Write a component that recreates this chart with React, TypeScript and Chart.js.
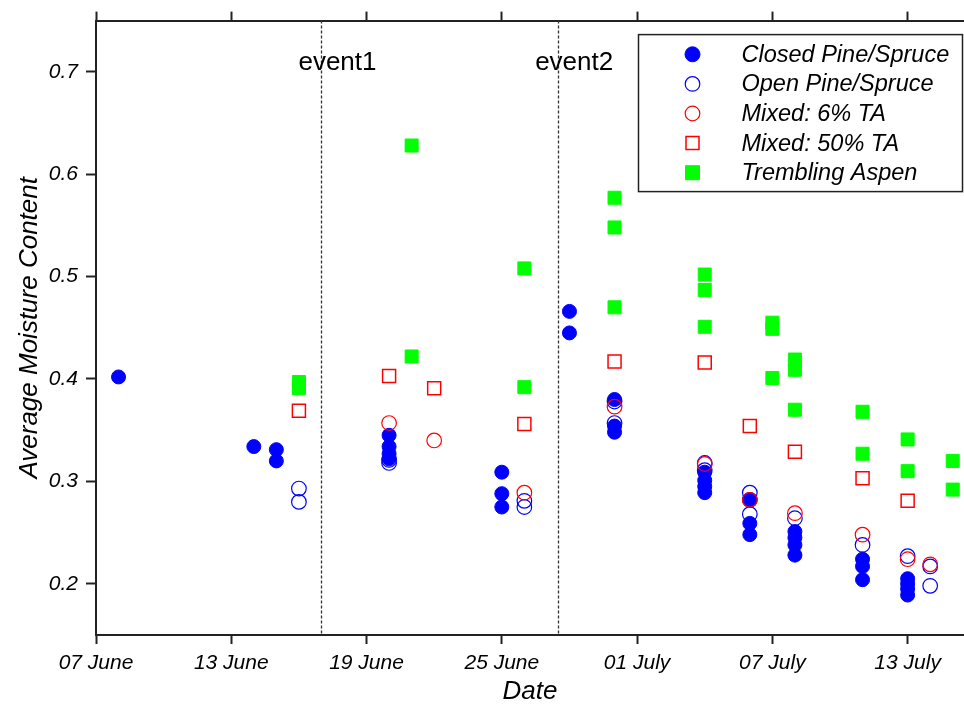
import React, { useEffect, useRef } from 'react';
import { Chart, registerables } from 'chart.js';

Chart.register(...registerables);

// x values are "day of June" (01 July = 31)
const xTickDays = [7, 13, 19, 25, 31, 37, 43];
const xTickLabels = ['07 June', '13 June', '19 June', '25 June', '01 July', '07 July', '13 July'];
const yTickValues = [0.2, 0.3, 0.4, 0.5, 0.6, 0.7];
const xMin = 7;
const xMax = 45.5;
const yMin = 0.15;
const yMax = 0.75;

const eventDays = [17, 27.5];
const eventLabels = ['event1', 'event2'];

const seriesNames = [
  'Closed Pine/Spruce',
  'Open Pine/Spruce',
  'Mixed: 6% TA',
  'Mixed: 50% TA',
  'Trembling Aspen',
];

const closedDays = [8, 14, 15, 15, 20, 20, 20, 20, 25, 25, 25, 28, 28, 30, 30, 30, 34, 34, 34, 34, 36, 36, 36, 38, 38, 38, 38, 41, 41, 41, 43, 43, 43, 43];
const closedValues = [0.402, 0.334, 0.331, 0.320, 0.345, 0.334, 0.327, 0.322, 0.309, 0.288, 0.275, 0.466, 0.445, 0.380, 0.354, 0.348, 0.309, 0.301, 0.295, 0.289, 0.282, 0.259, 0.248, 0.251, 0.245, 0.238, 0.228, 0.224, 0.217, 0.204, 0.205, 0.200, 0.195, 0.189];

const openDays = [16, 16, 20, 20, 26, 26, 30, 30, 34, 34, 36, 36, 36, 38, 41, 43, 44, 44];
const openValues = [0.293, 0.280, 0.321, 0.318, 0.281, 0.275, 0.378, 0.357, 0.318, 0.311, 0.289, 0.282, 0.268, 0.264, 0.238, 0.227, 0.217, 0.198];

const mixed6Days = [20, 22, 26, 30, 34, 36, 38, 41, 43, 44];
const mixed6Values = [0.357, 0.340, 0.289, 0.373, 0.317, 0.282, 0.269, 0.248, 0.224, 0.219];

const mixed50Days = [16, 20, 22, 26, 30, 34, 36, 38, 41, 43];
const mixed50Values = [0.369, 0.403, 0.391, 0.356, 0.417, 0.416, 0.354, 0.329, 0.303, 0.281];

const aspenDays = [16, 16, 21, 21, 26, 26, 30, 30, 30, 34, 34, 34, 37, 37, 37, 38, 38, 38, 41, 41, 43, 43, 45, 45];
const aspenValues = [0.397, 0.391, 0.628, 0.422, 0.508, 0.392, 0.577, 0.548, 0.470, 0.502, 0.487, 0.451, 0.455, 0.449, 0.401, 0.419, 0.409, 0.370, 0.368, 0.327, 0.341, 0.310, 0.320, 0.292];

const FONT = '"Liberation Sans", Arial, Helvetica, sans-serif';
const BLUE = '#0000ff';
const RED = '#ff0000';
const GREEN = '#00ff00';
const AXIS = '#222222';

const toPoints = (days: number[], vals: number[]) => days.map((d, i) => ({ x: d, y: vals[i] }));

type MarkerSpec = { style: 'circle' | 'rect'; fill: string | null; stroke: string; lw: number; r: number };
const markerSpecs: MarkerSpec[] = [
  { style: 'circle', fill: BLUE, stroke: BLUE, lw: 1, r: 7.5 },
  { style: 'circle', fill: null, stroke: BLUE, lw: 1.2, r: 7.3 },
  { style: 'circle', fill: null, stroke: RED, lw: 1.2, r: 7.3 },
  { style: 'rect', fill: null, stroke: RED, lw: 1.5, r: 6.5 },
  { style: 'rect', fill: GREEN, stroke: GREEN, lw: 1, r: 7 },
];

function drawMarker(ctx: CanvasRenderingContext2D, m: MarkerSpec, x: number, y: number) {
  ctx.beginPath();
  if (m.style === 'circle') ctx.arc(x, y, m.r, 0, Math.PI * 2);
  else ctx.rect(x - m.r, y - m.r, 2 * m.r, 2 * m.r);
  if (m.fill) {
    ctx.fillStyle = m.fill;
    ctx.fill();
  }
  ctx.strokeStyle = m.stroke;
  ctx.lineWidth = m.lw;
  ctx.stroke();
}

const overlayPlugin = {
  id: 'overlay',
  beforeDatasetsDraw(chart: any) {
    const { ctx, chartArea, scales } = chart;
    ctx.save();
    ctx.strokeStyle = '#333';
    ctx.lineWidth = 1.3;
    ctx.setLineDash([3, 2]);
    eventDays.forEach((d) => {
      const px = Math.round(scales.x.getPixelForValue(d)) + 0.5;
      ctx.beginPath();
      ctx.moveTo(px, chartArea.top);
      ctx.lineTo(px, chartArea.bottom);
      ctx.stroke();
    });
    ctx.restore();
  },
  afterDraw(chart: any) {
    const { ctx, chartArea, scales } = chart;
    ctx.save();
    // event labels
    ctx.fillStyle = '#000';
    ctx.font = `26px ${FONT}`;
    ctx.textAlign = 'center';
    ctx.textBaseline = 'middle';
    eventDays.forEach((d, i) => {
      const px = scales.x.getPixelForValue(d);
      ctx.fillText(eventLabels[i], px + 16, chartArea.top + 42);
    });

    // legend
    const lw = 324;
    const lh = 157;
    const lx = chartArea.right - lw - 1.5;
    const ly = chartArea.top + 14;
    ctx.fillStyle = '#fff';
    ctx.fillRect(lx, ly, lw, lh);
    ctx.strokeStyle = '#222';
    ctx.lineWidth = 1.5;
    ctx.strokeRect(lx, ly, lw, lh);
    const rowGap = 29.6;
    const firstRow = ly + 19.7;
    ctx.font = `italic 23.5px ${FONT}`;
    ctx.textAlign = 'left';
    ctx.textBaseline = 'middle';
    seriesNames.forEach((name, i) => {
      const y = firstRow + i * rowGap;
      drawMarker(ctx, markerSpecs[i], lx + 54, y);
      ctx.fillStyle = '#000';
      ctx.fillText(name, lx + 103, y + 1);
    });
    ctx.restore();
  },
};

export default function App() {
  const canvasRef = useRef<HTMLCanvasElement | null>(null);

  useEffect(() => {
    if (!canvasRef.current) return;
    const tickFont = { family: FONT, size: 21, style: 'italic' as const, weight: 'normal' as const };
    const titleFont = { family: FONT, size: 26, style: 'italic' as const, weight: 'normal' as const, lineHeight: 1 };
    const gridOpts = (len: number) => ({
      drawOnChartArea: false,
      drawTicks: true,
      tickLength: len,
      tickWidth: 2,
      tickColor: AXIS,
    });
    const xTicksBuilder = (axis: any) => {
      axis.ticks = xTickDays.map((v) => ({ value: v }));
    };

    const chart = new Chart(canvasRef.current, {
      type: 'scatter',
      data: {
        datasets: [
          {
            label: seriesNames[0],
            data: toPoints(closedDays, closedValues),
            pointStyle: 'circle',
            pointRadius: 7,
            backgroundColor: BLUE,
            borderColor: BLUE,
            borderWidth: 1,
            order: 3,
          },
          {
            label: seriesNames[1],
            data: toPoints(openDays, openValues),
            pointStyle: 'circle',
            pointRadius: 7.3,
            backgroundColor: 'rgba(0,0,0,0)',
            borderColor: BLUE,
            borderWidth: 1.2,
            order: 4,
          },
          {
            label: seriesNames[2],
            data: toPoints(mixed6Days, mixed6Values),
            pointStyle: 'circle',
            pointRadius: 7.3,
            backgroundColor: 'rgba(0,0,0,0)',
            borderColor: RED,
            borderWidth: 1.2,
            order: 2,
          },
          {
            label: seriesNames[3],
            data: toPoints(mixed50Days, mixed50Values),
            pointStyle: 'rect',
            pointRadius: 9.2,
            backgroundColor: 'rgba(0,0,0,0)',
            borderColor: RED,
            borderWidth: 1.5,
            order: 1,
          },
          {
            label: seriesNames[4],
            data: toPoints(aspenDays, aspenValues),
            pointStyle: 'rect',
            pointRadius: 9.2,
            backgroundColor: GREEN,
            borderColor: GREEN,
            borderWidth: 1,
            order: 0,
          },
        ] as any,
      },
      options: {
        responsive: false,
        animation: false,
        events: [],
        layout: { padding: 0, autoPadding: false },
        plugins: {
          legend: { display: false },
          tooltip: { enabled: false },
        },
        elements: { point: { hoverRadius: 0 } },
        scales: {
          x: {
            type: 'linear',
            position: 'bottom',
            min: xMin,
            max: xMax,
            afterBuildTicks: xTicksBuilder,
            afterFit: (s: any) => {
              s.height = 70;
            },
            ticks: {
              autoSkip: false,
              maxRotation: 0,
              padding: 7,
              color: '#000',
              font: tickFont,
              callback: (v: any) => {
                const i = xTickDays.indexOf(Number(v));
                return i >= 0 ? xTickLabels[i] : '';
              },
            },
            grid: gridOpts(9),
            border: { display: true, color: AXIS, width: 2 },
            title: {
              display: true,
              text: 'Date',
              color: '#000',
              font: titleFont,
              padding: { top: 0, bottom: 0 },
            },
          },
          x2: {
            type: 'linear',
            axis: 'x',
            position: 'top',
            min: xMin,
            max: xMax,
            afterBuildTicks: xTicksBuilder,
            afterFit: (s: any) => {
              s.height = 18;
            },
            ticks: { display: false },
            grid: gridOpts(9),
            border: { display: true, color: AXIS, width: 2 },
          },
          y: {
            type: 'linear',
            position: 'left',
            min: yMin,
            max: yMax,
            afterBuildTicks: (axis: any) => {
              axis.ticks = yTickValues.map((v) => ({ value: v }));
            },
            afterFit: (s: any) => {
              s.width = 96;
            },
            ticks: {
              padding: 8,
              color: '#000',
              font: tickFont,
              callback: (v: any) => Number(v).toFixed(1),
            },
            grid: gridOpts(10),
            border: { display: true, color: AXIS, width: 2 },
            title: {
              display: true,
              text: 'Average Moisture Content',
              color: '#000',
              font: titleFont,
              padding: { top: 17, bottom: 0 },
            },
          },
        },
      } as any,
      plugins: [overlayPlugin],
    });
    return () => chart.destroy();
  }, []);

  return (
    <div style={{ position: 'fixed', left: 0, top: 0, width: 964, height: 705, background: '#fff' }}>
      <canvas ref={canvasRef} width={964} height={705} style={{ display: 'block', width: 964, height: 705 }} />
    </div>
  );
}
